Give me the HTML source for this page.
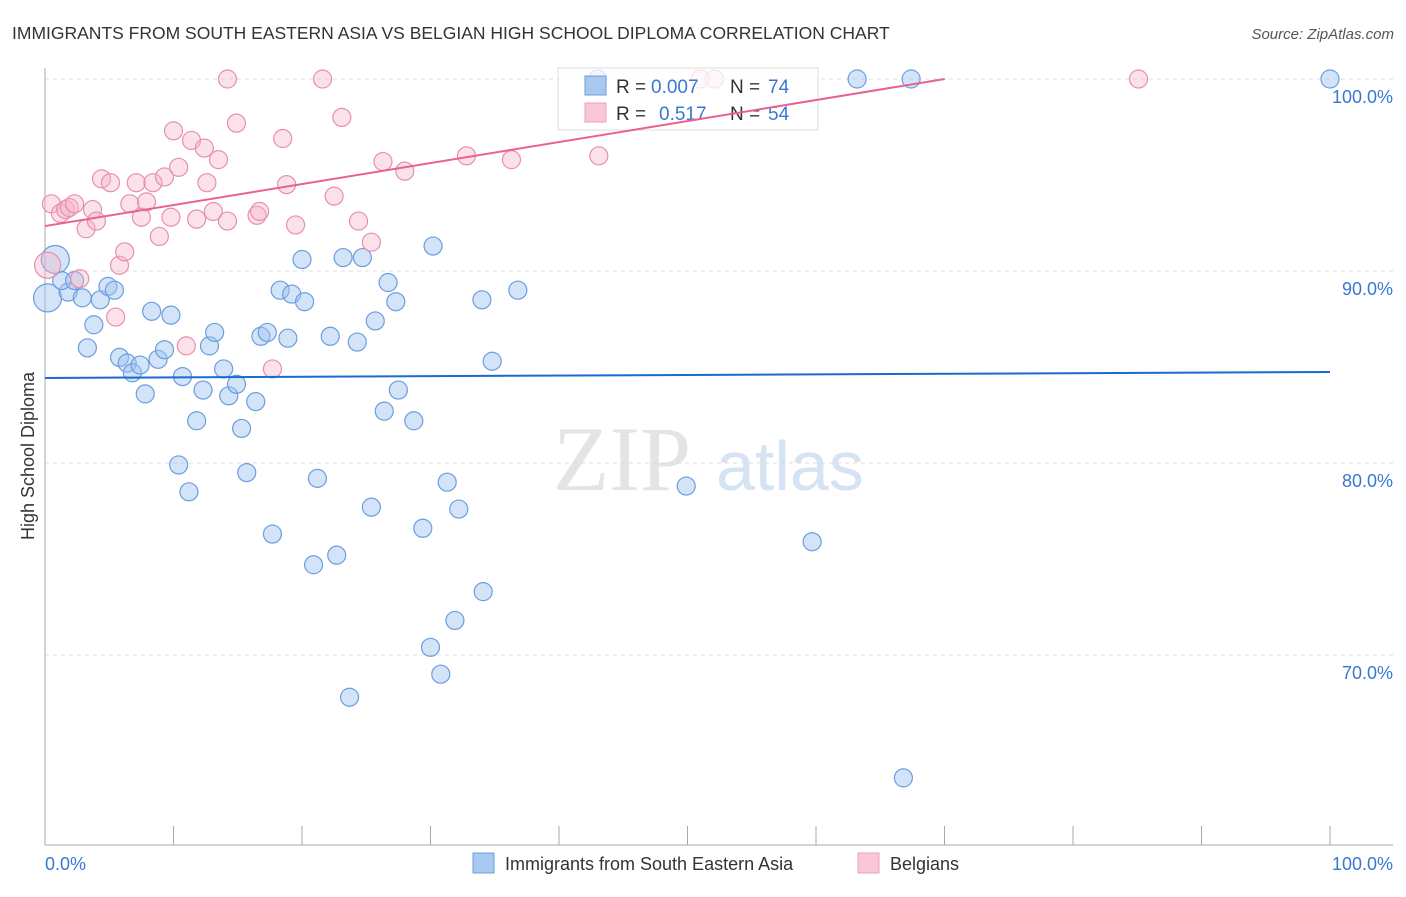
<!DOCTYPE html>
<html><head><meta charset="utf-8"><style>
body{margin:0;background:#fff;width:1406px;height:892px;overflow:hidden;font-family:"Liberation Sans",sans-serif}
svg text{font-family:"Liberation Sans",sans-serif}
</style></head><body>
<svg id="c" width="1406" height="892" xmlns="http://www.w3.org/2000/svg">
<text x="12" y="39" font-size="17.5" fill="#333">IMMIGRANTS FROM SOUTH EASTERN ASIA VS BELGIAN HIGH SCHOOL DIPLOMA CORRELATION CHART</text>
<text x="1394" y="39" font-size="15" fill="#555" font-style="italic" text-anchor="end">Source: ZipAtlas.com</text>
<g>
<text x="553" y="490" font-size="92" fill="#e4e4e4" style="font-family:'Liberation Serif',serif">ZIP</text>
<text x="716" y="490" font-size="70" fill="#d6e3f3">atlas</text>
</g>
<g id="grid"></g>
<g id="axes"></g>
<g id="pts"></g>
<text transform="translate(34,456) rotate(-90)" font-size="18" fill="#333" text-anchor="middle">High School Diploma</text>
<g>
<rect x="558" y="68" width="260" height="62" fill="rgba(255,255,255,0.75)" stroke="#ddd"/>
<rect x="585" y="76" width="21" height="19" fill="#a9c8f0" stroke="#6a9ee0"/>
<rect x="585" y="103" width="21" height="19" fill="#f9c7d6" stroke="#eba0b8"/>
<text y="93" font-size="19" fill="#333"><tspan x="616">R =</tspan><tspan x="651" fill="#3a78d0">0.007</tspan><tspan x="730">N =</tspan><tspan x="768" fill="#3a78d0">74</tspan></text>
<text y="120" font-size="19" fill="#333"><tspan x="616">R =</tspan><tspan x="659" fill="#3a78d0">0.517</tspan><tspan x="730">N =</tspan><tspan x="768" fill="#3a78d0">54</tspan></text>
</g>
<g id="lines"></g>
<g>
<rect x="473" y="853" width="21" height="20" fill="#a9c8f0" stroke="#6a9ee0"/>
<text x="505" y="870" font-size="18" fill="#333">Immigrants from South Eastern Asia</text>
<rect x="858" y="853" width="21" height="20" fill="#f9c7d6" stroke="#eba0b8"/>
<text x="890" y="870" font-size="18" fill="#333">Belgians</text>
</g>
</svg>
<script>
const blueX=[0.8,0.2,1.8,1.3,2.3,2.9,4.3,4.9,5.4,3.8,3.3,5.8,6.4,6.8,7.4,7.8,8.3,8.8,9.3,9.8,10.7,11.2,10.4,11.8,12.3,12.8,13.2,13.9,14.3,14.9,15.3,15.7,16.4,16.8,17.3,17.7,18.3,18.9,19.2,20.0,20.2,20.9,21.2,22.2,22.7,23.2,24.3,24.7,25.4,25.7,26.4,26.7,27.3,27.5,28.7,29.4,30.2,31.3,32.2,31.9,30.0,30.8,23.7,34.0,34.1,34.8,36.8,49.9,59.7,63.2,67.4,66.8,100,43.0];
const blueY=[90.6,88.6,88.9,89.5,89.5,88.6,88.5,89.2,89.0,87.2,86.0,85.5,85.2,84.7,85.1,83.6,87.9,85.4,85.9,87.7,84.5,78.5,79.9,82.2,83.8,86.1,86.8,84.9,83.5,84.1,81.8,79.5,83.2,86.6,86.8,76.3,89.0,86.5,88.8,90.6,88.4,74.7,79.2,86.6,75.2,90.7,86.3,90.7,77.7,87.4,82.7,89.4,88.4,83.8,82.2,76.6,91.3,79.0,77.6,71.8,70.4,69.0,67.8,88.5,73.3,85.3,89.0,78.8,75.9,100,100,63.6,100,100];
const pinkX=[0.2,0.5,1.2,1.6,1.9,2.3,2.7,3.2,3.7,4.0,4.4,5.1,5.5,5.8,6.2,6.6,7.1,7.5,7.9,8.4,8.9,9.3,9.8,10.0,10.4,11.0,11.4,11.8,12.4,12.6,13.1,13.5,14.2,14.2,14.9,16.5,16.7,17.7,18.5,18.8,19.5,21.6,22.5,23.1,24.4,25.4,26.3,28.0,32.8,36.3,43.1,51.0,52.1,85.1];
const pinkY=[90.3,93.5,93.0,93.2,93.3,93.5,89.6,92.2,93.2,92.6,94.8,94.6,87.6,90.3,91.0,93.5,94.6,92.8,93.6,94.6,91.8,94.9,92.8,97.3,95.4,86.1,96.8,92.7,96.4,94.6,93.1,95.8,100,92.6,97.7,92.9,93.1,84.9,96.9,94.5,92.4,100,93.9,98.0,92.6,91.5,95.7,95.2,96.0,95.8,96.0,100,100,100];
const trendBlue=[84.43,0.0031];
const trendPink=[92.34,0.1094];
const yTicks=[100,90,80,70];
const xTickLabels=["0.0%","100.0%"];
const NS="http://www.w3.org/2000/svg";
const X0=45,X1=1330,Y100=79,PX10=192;
const sx=v=>X0+(X1-X0)*v/100;
const sy=v=>Y100+(100-v)*PX10/10;
function mk(t,a,p){const e=document.createElementNS(NS,t);for(const k in a)e.setAttribute(k,a[k]);p.appendChild(e);return e;}
const grid=document.getElementById('grid'),axes=document.getElementById('axes'),pts=document.getElementById('pts'),lines=document.getElementById('lines');
yTicks.forEach(v=>{
 const l=mk('line',{x1:45,x2:1393,y1:sy(v),y2:sy(v),stroke:'#ddd','stroke-dasharray':'4,4'},grid);
 
 
 const t=mk('text',{x:1393,y:sy(v)+24,'font-size':18,fill:'#3a78d0','text-anchor':'end'},axes);
 t.textContent=v.toFixed(1)+'%';
 
 
});
let a=mk('line',{x1:45,x2:45,y1:68,y2:845,stroke:'#aaa'},axes);


a=mk('line',{x1:45,x2:1393,y1:845,y2:845,stroke:'#aaa'},axes);


for(let i=0;i<=10;i++){const tk=mk('line',{x1:sx(i*10),x2:sx(i*10),y1:826,y2:845,stroke:'#aaa'},axes);
 
 }
let t=mk('text',{x:45,y:870,'font-size':18,fill:'#3a78d0'},axes);t.textContent=xTickLabels[0];


t=mk('text',{x:1393,y:870,'font-size':18,fill:'#3a78d0','text-anchor':'end'},axes);t.textContent=xTickLabels[1];


function dot(x,y,r,fill,stroke,name){const c=mk('circle',{cx:sx(x),cy:sy(y),r:r,fill:fill,stroke:stroke,'stroke-width':1.2},pts);
 
 }
blueX.forEach((x,i)=>dot(x,blueY[i],i<2?14:9,'rgba(160,196,240,0.45)','#6a9ee0','blue-point'));
pinkX.forEach((x,i)=>dot(x,pinkY[i],i<1?13:9,'rgba(245,180,200,0.4)','#e890aa','pink-point'));
let l=mk('line',{x1:sx(0),y1:sy(trendBlue[0]),x2:sx(100),y2:sy(trendBlue[0]+trendBlue[1]*100),stroke:'#1a6ad0','stroke-width':2},lines);


const pEnd=Math.min(100,(100-trendPink[0])/trendPink[1]);
l=mk('line',{x1:sx(0),y1:sy(trendPink[0]),x2:sx(pEnd),y2:sy(trendPink[0]+trendPink[1]*pEnd),stroke:'#e8628e','stroke-width':2},lines);


</script>
</body></html>
